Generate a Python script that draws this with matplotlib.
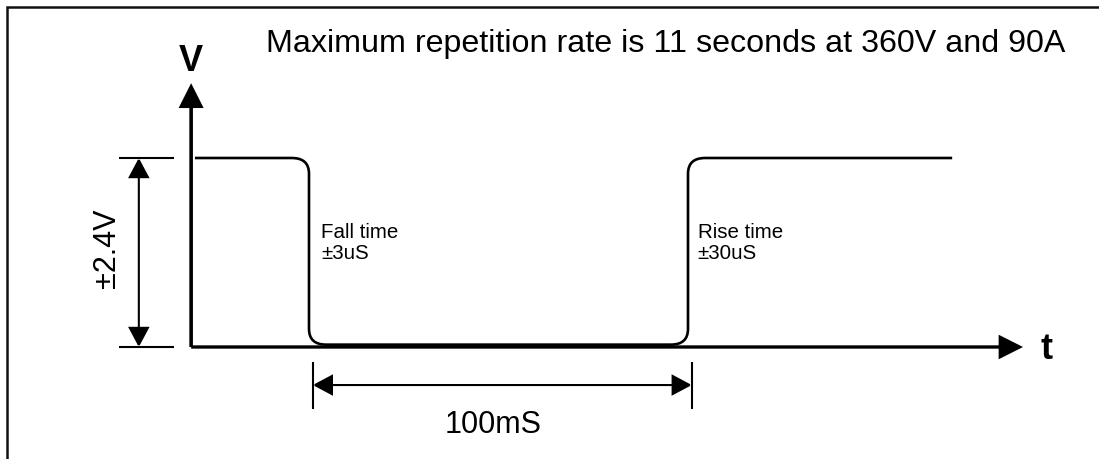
import matplotlib
matplotlib.use("Agg")
import matplotlib.pyplot as plt
from matplotlib.path import Path
from matplotlib.patches import PathPatch, FancyArrowPatch
from matplotlib.lines import Line2D

plt.rcParams['font.family'] = ['Liberation Sans', 'DejaVu Sans']

# waveform, time in ms and voltage in V
WAVE_START_MS = -30.1
FALL_MS = 0.0
RISE_MS = 100.0
WAVE_END_MS = 169.7
HIGH_V = 2.4
LOW_V = 0.0

# axes of the sketch
AXIS_T0_MS = -31.1
AXIS_T_END_MS = 188.4
AXIS_V_END = 3.35

# dimension marks
PULSE_WIDTH_MS = [0.0, 100.0]
PULSE_LABEL = "100mS"
SWING_V = [0.0, 2.4]
SWING_LABEL = "\u00b12.4V"
FALL_LABEL = "Fall time\n\u00b13uS"
RISE_LABEL = "Rise time\n\u00b130uS"
TITLE = "Maximum repetition rate is 11 seconds at 360V and 90A"

# layout: pixel mapping of the drawing
W, H = 1099, 459
X0_PX, PX_PER_MS = 309, 3.79
Y0_PX, PX_PER_V = 347, 78.75
RX_MS, RY_V = 4.5, 0.2       # corner rounding
LIFT_V = 0.03                # floor of the trace sits just on the axis

fig = plt.figure(figsize=(W / 100, H / 100), dpi=100)
ax = fig.add_axes([0, 0, 1, 1])
ax.set_xlim(-X0_PX / PX_PER_MS, (W - X0_PX) / PX_PER_MS)
ax.set_ylim(-(H - Y0_PX) / PX_PER_V, Y0_PX / PX_PER_V)
ax.axis('off')

# frame (only top and left edges are inside the picture)
fig.add_artist(Line2D([6.5 / W, 6.5 / W, 1.01], [-0.01, 1 - 7 / H, 1 - 7 / H],
                      transform=fig.transFigure, color='#111111', lw=1.8,
                      solid_joinstyle='miter'))

# axes arrows
def arrow(p0, p1, style, lw):
    a = FancyArrowPatch(p0, p1, arrowstyle=style, mutation_scale=1, lw=lw,
                        color='black', shrinkA=0, shrinkB=0, joinstyle='miter',
                        capstyle='butt')
    ax.add_patch(a)

axis_head = '-|>,head_length=13.7,head_width=6.9'
arrow((AXIS_T0_MS, LOW_V), (AXIS_T0_MS, AXIS_V_END), axis_head, 2.6)
arrow((AXIS_T0_MS, LOW_V), (AXIS_T_END_MS, LOW_V), axis_head, 2.4)
ax.text(AXIS_T0_MS, AXIS_V_END + 0.15, "V", fontsize=26, fontweight='bold',
        ha='center', va='baseline')
ax.text(AXIS_T_END_MS + 4.5, LOW_V - 0.15, "t", fontsize=26, fontweight='bold',
        ha='left', va='baseline')

# the pulse trace with rounded corners
lo = LOW_V + LIFT_V
verts = [
    (WAVE_START_MS, HIGH_V), (FALL_MS - RX_MS, HIGH_V),
    (FALL_MS, HIGH_V), (FALL_MS, HIGH_V - RY_V),
    (FALL_MS, lo + RY_V),
    (FALL_MS, lo), (FALL_MS + RX_MS, lo),
    (RISE_MS - RX_MS, lo),
    (RISE_MS, lo), (RISE_MS, lo + RY_V),
    (RISE_MS, HIGH_V - RY_V),
    (RISE_MS, HIGH_V), (RISE_MS + RX_MS, HIGH_V),
    (WAVE_END_MS, HIGH_V),
]
codes = [Path.MOVETO, Path.LINETO,
         Path.CURVE3, Path.CURVE3,
         Path.LINETO,
         Path.CURVE3, Path.CURVE3,
         Path.LINETO,
         Path.CURVE3, Path.CURVE3,
         Path.LINETO,
         Path.CURVE3, Path.CURVE3,
         Path.LINETO]
ax.add_patch(PathPatch(Path(verts, codes), fill=False, lw=1.9, ec='black',
                       capstyle='butt'))

# baseline of the second line of each note
ax.text(FALL_MS + 3.2, 1.12, FALL_LABEL, fontsize=14.8, ha='left',
        va='baseline', linespacing=1.12)
ax.text(RISE_MS + 2.6, 1.12, RISE_LABEL, fontsize=14.8, ha='left',
        va='baseline', linespacing=1.12)

# swing dimension
dim_head = '<|-|>,head_length=12.2,head_width=6.5'
t_dim = -44.9
for v in SWING_V:
    ax.plot([-50.1, -35.6], [v, v], color='black', lw=1.5,
            solid_capstyle='butt')
arrow((t_dim, SWING_V[0]), (t_dim, SWING_V[1]), dim_head, 1.5)
ax.text(-53.3, sum(SWING_V) / 2 + 0.06, SWING_LABEL, fontsize=22,
        rotation=90, ha='center', va='center')

# pulse width dimension
v_dim = -0.483
for t in PULSE_WIDTH_MS:
    ax.plot([t + 1.0, t + 1.0], [-0.19, -0.79], color='black', lw=1.5,
            solid_capstyle='butt')
arrow((PULSE_WIDTH_MS[0] + 1.0, v_dim), (PULSE_WIDTH_MS[1] + 1.0, v_dim),
      dim_head, 1.5)
ax.text(48.5, -1.09, PULSE_LABEL, fontsize=22, ha='center', va='baseline')

ax.text(94.2, 3.74, TITLE, fontsize=23.2, ha='center', va='baseline')

fig.savefig("out.png", dpi=100)
